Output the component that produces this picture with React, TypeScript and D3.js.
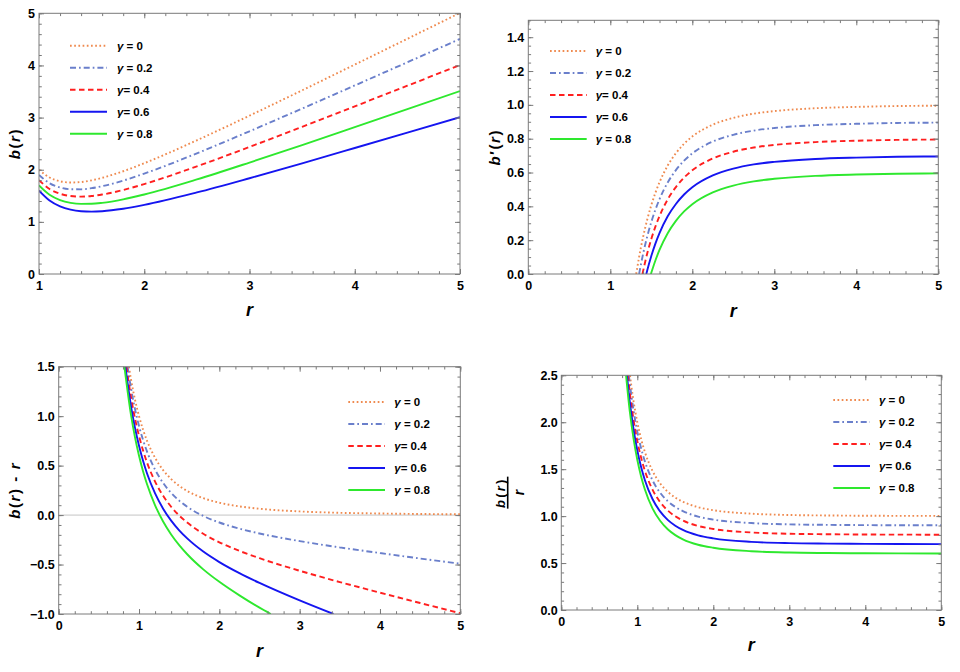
import React, { useRef, useEffect } from "react";
import * as d3 from "d3";

type Pt = [number, number];

// legend text, as printed in the figure
const gammaLabels = ["γ = 0", "γ = 0.2", "γ= 0.4", "γ= 0.6", "γ = 0.8"];

// ---- panel 1 : b(r), r from 1 to 5
const p1R = [1, 1.1, 1.2, 1.3, 1.4, 1.5, 1.6, 1.8, 2, 2.5, 3, 3.5, 4, 4.5, 5];
const p1G0 = [2.0, 1.851, 1.779, 1.755, 1.764, 1.796, 1.844, 1.971, 2.125, 2.564, 3.037, 3.523, 4.016, 4.511, 5.008];
const p1G02 = [1.9, 1.741, 1.659, 1.625, 1.624, 1.646, 1.684, 1.791, 1.925, 2.314, 2.737, 3.173, 3.616, 4.061, 4.508];
const p1G04 = [1.8, 1.631, 1.539, 1.495, 1.484, 1.496, 1.524, 1.611, 1.725, 2.064, 2.437, 2.823, 3.216, 3.611, 4.008];
const p1G06 = [1.6, 1.411, 1.299, 1.235, 1.204, 1.196, 1.204, 1.251, 1.325, 1.564, 1.837, 2.123, 2.416, 2.711, 3.008];
const p1G08 = [1.7, 1.521, 1.419, 1.365, 1.344, 1.346, 1.364, 1.431, 1.525, 1.814, 2.137, 2.473, 2.816, 3.161, 3.508];

// ---- panel 2 : b'(r)
const p2G0: Pt[] = [[1.316, 0], [1.35, 0.097], [1.4, 0.219], [1.45, 0.321], [1.5, 0.407], [1.55, 0.48], [1.6, 0.542], [1.7, 0.641], [1.8, 0.714], [1.9, 0.77], [2, 0.813], [2.25, 0.883], [2.5, 0.923], [2.75, 0.948], [3, 0.963], [3.5, 0.98], [4, 0.988], [4.5, 0.993], [5, 0.995]];
const p2G02: Pt[] = [[1.351, 0], [1.4, 0.119], [1.45, 0.221], [1.5, 0.307], [1.55, 0.38], [1.6, 0.442], [1.7, 0.541], [1.8, 0.614], [1.9, 0.67], [2, 0.713], [2.25, 0.783], [2.5, 0.823], [2.75, 0.848], [3, 0.863], [3.5, 0.88], [4, 0.888], [4.5, 0.893], [5, 0.895]];
const p2G04: Pt[] = [[1.392, 0], [1.45, 0.121], [1.5, 0.207], [1.55, 0.28], [1.6, 0.342], [1.7, 0.441], [1.8, 0.514], [1.9, 0.57], [2, 0.613], [2.25, 0.683], [2.5, 0.723], [2.75, 0.748], [3, 0.763], [3.5, 0.78], [4, 0.788], [4.5, 0.793], [5, 0.795]];
const p2G06: Pt[] = [[1.439, 0], [1.45, 0.021], [1.5, 0.107], [1.55, 0.18], [1.6, 0.242], [1.7, 0.341], [1.8, 0.414], [1.9, 0.47], [2, 0.513], [2.25, 0.583], [2.5, 0.623], [2.75, 0.648], [3, 0.663], [3.5, 0.68], [4, 0.688], [4.5, 0.693], [5, 0.695]];
const p2G08: Pt[] = [[1.495, 0], [1.55, 0.08], [1.6, 0.142], [1.7, 0.241], [1.8, 0.314], [1.9, 0.37], [2, 0.413], [2.25, 0.483], [2.5, 0.523], [2.75, 0.548], [3, 0.563], [3.5, 0.58], [4, 0.588], [4.5, 0.593], [5, 0.595]];

// ---- panel 3 : b(r) - r
const p3G0: Pt[] = [[0.874, 1.5], [0.9, 1.372], [0.95, 1.166], [1, 1], [1.05, 0.864], [1.1, 0.751], [1.2, 0.579], [1.3, 0.455], [1.4, 0.364], [1.5, 0.296], [1.6, 0.244], [1.8, 0.171], [2, 0.125], [2.25, 0.088], [2.5, 0.064], [3, 0.037], [3.5, 0.023], [4, 0.016], [4.5, 0.011], [5, 0.008]];
const p3G02: Pt[] = [[0.857, 1.5], [0.9, 1.282], [0.95, 1.071], [1, 0.9], [1.05, 0.759], [1.1, 0.641], [1.2, 0.459], [1.3, 0.325], [1.4, 0.224], [1.5, 0.146], [1.6, 0.084], [1.8, -0.009], [2, -0.075], [2.25, -0.137], [2.5, -0.186], [3, -0.263], [3.5, -0.327], [4, -0.384], [4.5, -0.439], [5, -0.492]];
const p3G04: Pt[] = [[0.843, 1.5], [0.9, 1.192], [0.95, 0.976], [1, 0.8], [1.05, 0.654], [1.1, 0.531], [1.2, 0.339], [1.3, 0.195], [1.4, 0.084], [1.5, -0.004], [1.6, -0.076], [1.8, -0.189], [2, -0.275], [2.25, -0.362], [2.5, -0.436], [3, -0.563], [3.5, -0.677], [4, -0.784], [4.5, -0.889], [5, -0.992]];
const p3G06: Pt[] = [[0.83, 1.5], [0.9, 1.102], [0.95, 0.881], [1, 0.7], [1.05, 0.549], [1.1, 0.421], [1.2, 0.219], [1.3, 0.065], [1.4, -0.056], [1.5, -0.154], [1.6, -0.236], [1.8, -0.369], [2, -0.475], [2.25, -0.587], [2.5, -0.686], [3, -0.863], [3.42, -1.0]];
const p3G08: Pt[] = [[0.818, 1.5], [0.9, 1.012], [0.95, 0.786], [1, 0.6], [1.05, 0.444], [1.1, 0.311], [1.2, 0.099], [1.3, -0.065], [1.4, -0.196], [1.5, -0.304], [1.6, -0.396], [1.8, -0.549], [2, -0.675], [2.25, -0.812], [2.5, -0.936], [2.64, -1.0]];

// ---- panel 4 : b(r) / r
const p4G0: Pt[] = [[0.904, 2.5], [0.92, 2.396], [0.95, 2.228], [1, 2], [1.05, 1.823], [1.1, 1.683], [1.2, 1.482], [1.3, 1.35], [1.4, 1.26], [1.5, 1.198], [1.6, 1.153], [1.8, 1.095], [2, 1.063], [2.5, 1.026], [3, 1.012], [3.5, 1.007], [4, 1.004], [5, 1.002]];
const p4G02: Pt[] = [[0.889, 2.5], [0.9, 2.424], [0.95, 2.128], [1, 1.9], [1.05, 1.723], [1.1, 1.583], [1.2, 1.382], [1.3, 1.25], [1.4, 1.16], [1.5, 1.098], [1.6, 1.053], [1.8, 0.995], [2, 0.963], [2.5, 0.926], [3, 0.912], [3.5, 0.907], [4, 0.904], [5, 0.902]];
const p4G04: Pt[] = [[0.876, 2.5], [0.9, 2.324], [0.95, 2.028], [1, 1.8], [1.05, 1.623], [1.1, 1.483], [1.2, 1.282], [1.3, 1.15], [1.4, 1.06], [1.5, 0.998], [1.6, 0.953], [1.8, 0.895], [2, 0.863], [2.5, 0.826], [3, 0.812], [3.5, 0.807], [4, 0.804], [5, 0.802]];
const p4G06: Pt[] = [[0.864, 2.5], [0.9, 2.224], [0.95, 1.928], [1, 1.7], [1.05, 1.523], [1.1, 1.383], [1.2, 1.182], [1.3, 1.05], [1.4, 0.96], [1.5, 0.898], [1.6, 0.853], [1.8, 0.795], [2, 0.763], [2.5, 0.726], [3, 0.712], [3.5, 0.707], [4, 0.704], [5, 0.702]];
const p4G08: Pt[] = [[0.852, 2.5], [0.9, 2.124], [0.95, 1.828], [1, 1.6], [1.05, 1.423], [1.1, 1.283], [1.2, 1.082], [1.3, 0.95], [1.4, 0.86], [1.5, 0.798], [1.6, 0.753], [1.8, 0.695], [2, 0.663], [2.5, 0.626], [3, 0.612], [3.5, 0.607], [4, 0.604], [5, 0.602]];

// tick values
const xTicks15 = [1, 2, 3, 4, 5];
const xTicks05 = [0, 1, 2, 3, 4, 5];
const p1YTicks = [0, 1, 2, 3, 4, 5];
const p2YTicks = [0, 0.2, 0.4, 0.6, 0.8, 1.0, 1.2, 1.4];
const p3YTicks = [-1, -0.5, 0, 0.5, 1, 1.5];
const p4YTicks = [0, 0.5, 1, 1.5, 2, 2.5];

const zip = (r: number[], v: number[]): Pt[] => r.map((d, i) => [d, v[i]]);

// line styles: orange dotted, slate dot-dash, red dashed, blue, green
const styles = [
  { color: "#ef8a4f", dash: "1.7 2.5" },
  { color: "#6a7fcb", dash: "6 3 1.7 3" },
  { color: "#ff1f1f", dash: "5.5 3.5" },
  { color: "#1515f0", dash: null },
  { color: "#2ee82e", dash: null },
];

const FONT = "'Liberation Sans', Arial, sans-serif";

const panels = [
  {
    id: "p1", left: 39, right: 460, top: 13.3, bottom: 274,
    xDomain: [1, 5], yDomain: [0, 5], xTicks: xTicks15, yTicks: p1YTicks,
    xMinor: 0.2, yMinor: 0.2, yFmt: d3.format("d"),
    series: [zip(p1R, p1G0), zip(p1R, p1G02), zip(p1R, p1G04), zip(p1R, p1G06), zip(p1R, p1G08)],
    legend: { x0: 70, x1: 107, tx: 117, y: 45.7 },
    ylabel: "b(r)", ylx: 14, xlY: 316, zero: false, yPad: 4,
  },
  {
    id: "p2", left: 528.3, right: 938.3, top: 20.3, bottom: 274,
    xDomain: [0, 5], yDomain: [0, 1.5], xTicks: xTicks05, yTicks: p2YTicks,
    xMinor: 0.2, yMinor: 0.05, yFmt: d3.format(".1f"),
    series: [p2G0, p2G02, p2G04, p2G06, p2G08],
    legend: { x0: 550, x1: 586.7, tx: 595.7, y: 51 },
    ylabel: "b′(r)", ylx: 494, xlY: 317, zero: false, yPad: 4,
  },
  {
    id: "p3", left: 58.7, right: 460.3, top: 366.7, bottom: 614,
    xDomain: [0, 5], yDomain: [-1, 1.5], xTicks: xTicks05, yTicks: p3YTicks,
    xMinor: 0.2, yMinor: 0.1, yFmt: (d: number) => (d < 0 ? "−" + d3.format(".1f")(-d) : d3.format(".1f")(d)),
    series: [p3G0, p3G02, p3G04, p3G06, p3G08],
    legend: { x0: 348.3, x1: 385, tx: 394.3, y: 402 },
    ylabel: "b(r) - r", ylx: 14, xlY: 657, zero: true, yPad: 4,
  },
  {
    id: "p4", left: 561.3, right: 941.3, top: 375.3, bottom: 610,
    xDomain: [0, 5], yDomain: [0, 2.5], xTicks: xTicks05, yTicks: p4YTicks,
    xMinor: 0.2, yMinor: 0.1, yFmt: d3.format(".1f"),
    series: [p4G0, p4G02, p4G04, p4G06, p4G08],
    legend: { x0: 833.3, x1: 870, tx: 879, y: 400 },
    ylabel: "frac", ylx: 510, xlY: 651, zero: false, yPad: 3.5,
  },
];

function italicLabel(sel: any, text: string) {
  // b and r italic, the rest upright
  for (const ch of text) {
    sel.append("tspan").attr("font-style", /[br]/.test(ch) ? "italic" : "normal").text(ch);
  }
}

function drawPanel(svg: any, p: any) {
  const x = d3.scaleLinear().domain(p.xDomain).range([p.left, p.right]);
  const y = d3.scaleLinear().domain(p.yDomain).range([p.bottom, p.top]);
  const g = svg.append("g");

  g.append("clipPath").attr("id", `clip-${p.id}`)
    .append("rect")
    .attr("x", p.left).attr("y", p.top)
    .attr("width", p.right - p.left).attr("height", p.bottom - p.top);

  if (p.zero) {
    g.append("line")
      .attr("x1", p.left).attr("x2", p.right)
      .attr("y1", y(0)).attr("y2", y(0))
      .attr("stroke", "#c4c4c4").attr("stroke-width", 1);
  }

  const line = d3.line<Pt>().x(d => x(d[0])).y(d => y(d[1])).curve(d3.curveMonotoneX);

  p.series.forEach((s: Pt[], i: number) => {
    g.append("path")
      .attr("d", line(s))
      .attr("clip-path", `url(#clip-${p.id})`)
      .attr("fill", "none")
      .attr("stroke", styles[i].color)
      .attr("stroke-width", 1.9)
      .attr("stroke-dasharray", styles[i].dash);
  });

  // ticks point inwards on all four sides (minor, then major)
  const xMin = d3.range(p.xDomain[0], p.xDomain[1] + 1e-9, p.xMinor);
  const yMin = d3.range(p.yDomain[0], p.yDomain[1] + 1e-9, p.yMinor);
  const mk = (axis: any, tx: number, ty: number) =>
    g.append("g").attr("transform", `translate(${tx},${ty})`)
      .attr("color", "#7a7a7a")
      .call(axis)
      .call((a: any) => a.select(".domain").remove());

  mk(d3.axisBottom(x).tickValues(xMin).tickSize(-2.8).tickFormat(() => ""), 0, p.bottom);
  mk(d3.axisTop(x).tickValues(xMin).tickSize(-2.8).tickFormat(() => ""), 0, p.top);
  mk(d3.axisLeft(y).tickValues(yMin).tickSize(-2.8).tickFormat(() => ""), p.left, 0);
  mk(d3.axisRight(y).tickValues(yMin).tickSize(-2.8).tickFormat(() => ""), p.right, 0);
  const xb = mk(d3.axisBottom(x).tickValues(p.xTicks).tickSize(-5).tickPadding(7).tickFormat(d3.format("d")), 0, p.bottom);
  mk(d3.axisTop(x).tickValues(p.xTicks).tickSize(-5).tickFormat(() => ""), 0, p.top);
  const yl = mk(d3.axisLeft(y).tickValues(p.yTicks).tickSize(-5).tickPadding(p.yPad).tickFormat(p.yFmt), p.left, 0);
  mk(d3.axisRight(y).tickValues(p.yTicks).tickSize(-5).tickFormat(() => ""), p.right, 0);

  [xb, yl].forEach(a =>
    a.selectAll("text")
      .attr("fill", "#000")
      .attr("font-family", FONT)
      .attr("font-weight", "bold")
      .attr("font-size", 12.5)
  );

  // frame
  g.append("rect")
    .attr("x", p.left).attr("y", p.top)
    .attr("width", p.right - p.left).attr("height", p.bottom - p.top)
    .attr("fill", "none").attr("stroke", "#7a7a7a").attr("stroke-width", 1);

  // x label
  g.append("text")
    .attr("x", (p.left + p.right) / 2).attr("y", p.xlY)
    .attr("text-anchor", "middle")
    .attr("font-family", FONT).attr("font-weight", "bold")
    .attr("font-style", "italic").attr("font-size", 18)
    .text("r");

  // y label
  const cy = (p.top + p.bottom) / 2;
  if (p.ylabel === "frac") {
    const fg = g.append("g").attr("transform", `translate(${p.ylx},${cy}) rotate(-90)`)
      .attr("font-family", FONT).attr("font-weight", "bold");
    const num = fg.append("text").attr("x", 0).attr("y", -4.6)
      .attr("text-anchor", "middle").attr("font-size", 13)
      .attr("letter-spacing", 2.2);
    italicLabel(num, "b(r)");
    fg.append("line").attr("x1", -16).attr("x2", 16).attr("y1", -2.3).attr("y2", -2.3)
      .attr("stroke", "#000").attr("stroke-width", 1.6);
    fg.append("text").attr("x", 0).attr("y", 13.6)
      .attr("text-anchor", "middle").attr("font-size", 14)
      .attr("font-style", "italic").text("r");
  } else {
    const t = g.append("text")
      .attr("transform", `translate(${p.ylx},${cy}) rotate(-90)`)
      .attr("text-anchor", "middle").attr("dominant-baseline", "central")
      .attr("font-family", FONT).attr("font-weight", "bold").attr("font-size", 15)
      .attr("letter-spacing", 1.6);
    italicLabel(t, p.ylabel);
  }

  // legend
  const lg = g.append("g");
  gammaLabels.forEach((lab, i) => {
    const yy = p.legend.y + i * 22;
    lg.append("line")
      .attr("x1", p.legend.x0).attr("x2", p.legend.x1)
      .attr("y1", yy).attr("y2", yy)
      .attr("stroke", styles[i].color).attr("stroke-width", 1.9)
      .attr("stroke-dasharray", styles[i].dash);
    const t = lg.append("text")
      .attr("x", p.legend.tx).attr("y", yy)
      .attr("dominant-baseline", "central")
      .attr("font-family", FONT).attr("font-weight", "bold").attr("font-size", 11.5);
    t.append("tspan").attr("font-style", "italic").text(lab.slice(0, 1));
    t.append("tspan").text(lab.slice(1));
  });
}

function App() {
  const ref = useRef<SVGSVGElement>(null);

  useEffect(() => {
    if (!ref.current) return;
    const svg = d3.select(ref.current);
    svg.selectAll("*").remove();
    svg.append("rect").attr("width", 960).attr("height", 672).attr("fill", "#fff");
    panels.forEach(p => drawPanel(svg, p));
  }, []);

  return (
    <div style={{ position: "absolute", left: 0, top: 0 }}>
      <svg ref={ref} width={960} height={672}></svg>
    </div>
  );
}

export default App;
